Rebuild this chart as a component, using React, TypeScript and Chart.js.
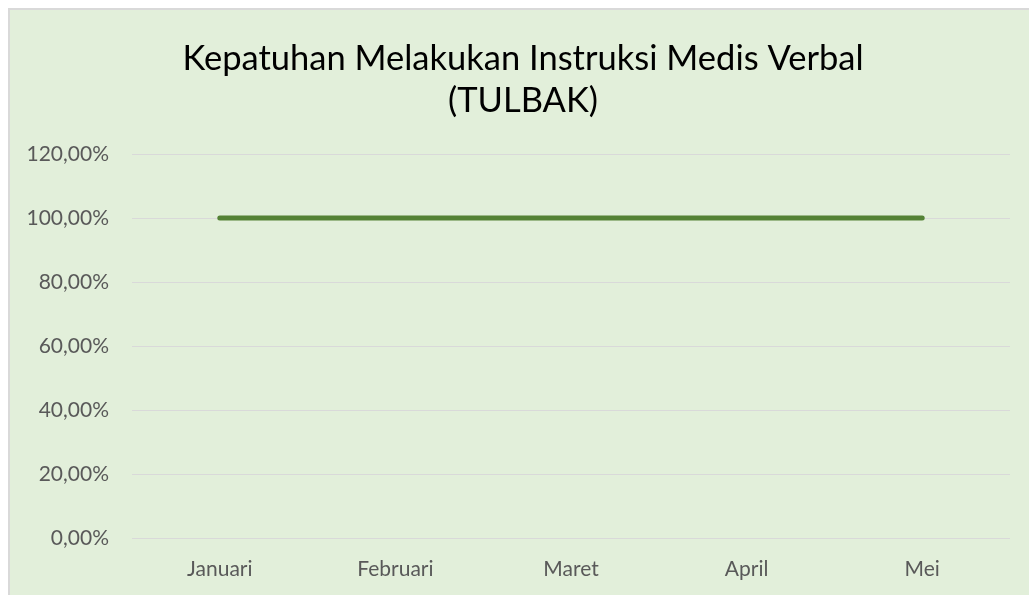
import React, { useEffect, useRef } from "react";
import { Chart, registerables } from "chart.js";

Chart.register(...registerables);

const categories = ["Januari", "Februari", "Maret", "April", "Mei"];
const complianceValues = [1, 1, 1, 1, 1];
const yTicksMin = 0;
const yTicksMax = 1.2;
const yTickStep = 0.2;
const titleLines = ["Kepatuhan Melakukan Instruksi Medis Verbal", "(TULBAK)"];

const FONT = "Lato, 'Open Sans', sans-serif";

export default function App() {
  const ref = useRef<HTMLCanvasElement | null>(null);

  useEffect(() => {
    document.body.style.margin = "0";
    document.body.style.overflow = "hidden";
    const canvas = ref.current;
    if (!canvas) return;
    const chart = new Chart(canvas, {
      type: "line",
      data: {
        labels: categories,
        datasets: [
          {
            label: "Kepatuhan",
            data: complianceValues,
            borderColor: "#548235",
            backgroundColor: "#548235",
            borderWidth: 5,
            borderCapStyle: "round",
            pointRadius: 0,
            tension: 0,
            yAxisID: "y",
          },
        ],
      },
      options: {
        animation: false,
        responsive: false,
        maintainAspectRatio: false,
        layout: { padding: { left: 0, right: 0, top: 0, bottom: 22 } },
        plugins: {
          legend: { display: false },
          tooltip: { enabled: false },
          title: {
            display: true,
            text: titleLines,
            color: "#000000",
            font: { family: FONT, size: 34.5, weight: "normal", lineHeight: 42 / 34.5 },
            padding: { top: 28, bottom: 32 },
          },
        },
        scales: {
          x: {
            offset: true,
            grid: { display: false, drawTicks: false },
            border: { display: false },
            ticks: {
              color: "#595959",
              font: { family: FONT, size: 21 },
              padding: 19,
              maxRotation: 0,
            },
            afterFit: (s: any) => {
              s.height = 50;
            },
          },
          y: {
            min: yTicksMin,
            max: yTicksMax,
            grid: { color: "#d9d9d9", lineWidth: 1, drawTicks: false },
            border: { display: false },
            ticks: {
              stepSize: yTickStep,
              color: "#595959",
              font: { family: FONT, size: 21 },
              padding: 23,
              callback: (v: any) => (Number(v) * 100).toFixed(2).replace(".", ",") + "%",
            },
            afterFit: (s: any) => {
              s.width = 122;
            },
          },
          yRight: {
            position: "right",
            min: yTicksMin,
            max: yTicksMax,
            grid: { display: false, drawTicks: false },
            border: { display: false },
            ticks: { display: false },
            afterFit: (s: any) => {
              s.width = 26;
            },
          },
        },
      },
    });
    return () => chart.destroy();
  }, []);

  return (
    <div style={{ position: "fixed", left: 0, top: 0, width: 1029, height: 595, overflow: "hidden", background: "#ffffff" }}>
      <div
        style={{
          position: "absolute",
          left: 8,
          top: 8,
          width: 1040,
          height: 600,
          borderLeft: "2px solid #d9d9d9",
          borderTop: "2px solid #d9d9d9",
          background: "#e2efda",
        }}
      >
        <canvas ref={ref} width={1026} height={600} style={{ display: "block", width: 1026, height: 600 }} />
      </div>
    </div>
  );
}
